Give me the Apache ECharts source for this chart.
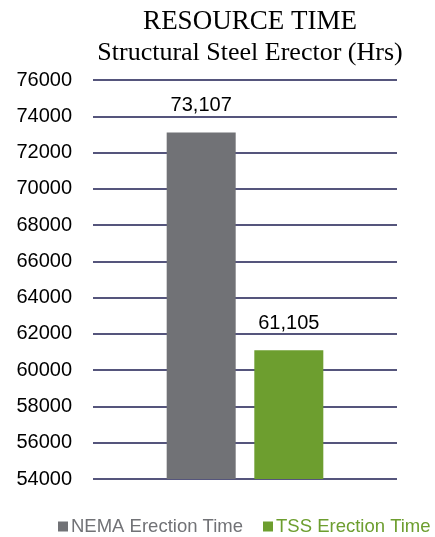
<!DOCTYPE html>
<html>
<head>
<meta charset="utf-8">
<script src="https://cdn.jsdelivr.net/npm/echarts@6/dist/echarts.min.js"></script>
<style>
  html, body { margin: 0; padding: 0; background: #fff; }
  #chart { width: 435px; height: 537px; }
</style>
</head>
<body>
<div id="chart"></div>
<script>
// Structural steel erector hours, by erection method
const categories = ['Resource Time'];
const seriesNames = ['NEMA Erection Time', 'TSS Erection Time'];
const nemaValues = [73107];
const tssValues = [61105];
const yMin = 54000;
const yMax = 76000;
const yStep = 2000;

const colors = ['#717276', '#6d9e2f'];
const sans = 'Liberation Sans, Arial, sans-serif';
const serif = 'Liberation Serif, Times New Roman, serif';

const chart = echarts.init(document.getElementById('chart'), null, { renderer: 'canvas' });

const labelStyle = {
  show: true,
  position: 'top',
  distance: 17,
  color: '#000',
  fontFamily: sans,
  fontSize: 20,
  formatter: p => p.value.toLocaleString('en-US')
};

chart.setOption({
  animation: false,
  title: [
    {
      text: 'RESOURCE TIME',
      left: 245, top: 3, textAlign: 'center',
      textStyle: { fontFamily: serif, fontWeight: 'normal', fontSize: 27, color: '#000' }
    },
    {
      text: 'Structural Steel Erector (Hrs)',
      left: 245, top: 35, textAlign: 'center',
      textStyle: { fontFamily: serif, fontWeight: 'normal', fontSize: 26, color: '#000' }
    }
  ],
  legend: {
    bottom: 1,
    left: 58,
    width: 377,
    padding: 0,
    itemWidth: 10, itemHeight: 10, itemGap: 20,
    icon: 'rect',
    textStyle: { fontFamily: sans, fontSize: 18.5, padding: [0, 0, 0, -2] },
    data: seriesNames.map((n, i) => ({ name: n, textStyle: { color: colors[i] } }))
  },
  grid: { left: 93, right: 38, top: 80, bottom: 58, containLabel: false },
  xAxis: {
    type: 'category',
    data: categories,
    axisLine: { show: false },
    axisTick: { show: false },
    axisLabel: { show: false }
  },
  yAxis: {
    type: 'value',
    min: yMin, max: yMax, interval: yStep,
    axisLine: { show: false },
    axisTick: { show: false },
    axisLabel: {
      color: '#000', fontSize: 20, margin: 21,
      fontFamily: sans,
      formatter: v => String(v)
    },
    splitLine: { lineStyle: { color: '#1c1c50', width: 1.5 } }
  },
  series: [
    {
      name: seriesNames[0], type: 'bar', data: nemaValues,
      barWidth: 69, barGap: '27%',
      itemStyle: { color: colors[0] },
      label: labelStyle
    },
    {
      name: seriesNames[1], type: 'bar', data: tssValues,
      barWidth: 69,
      itemStyle: { color: colors[1] },
      label: labelStyle
    }
  ]
});
</script>
</body>
</html>
